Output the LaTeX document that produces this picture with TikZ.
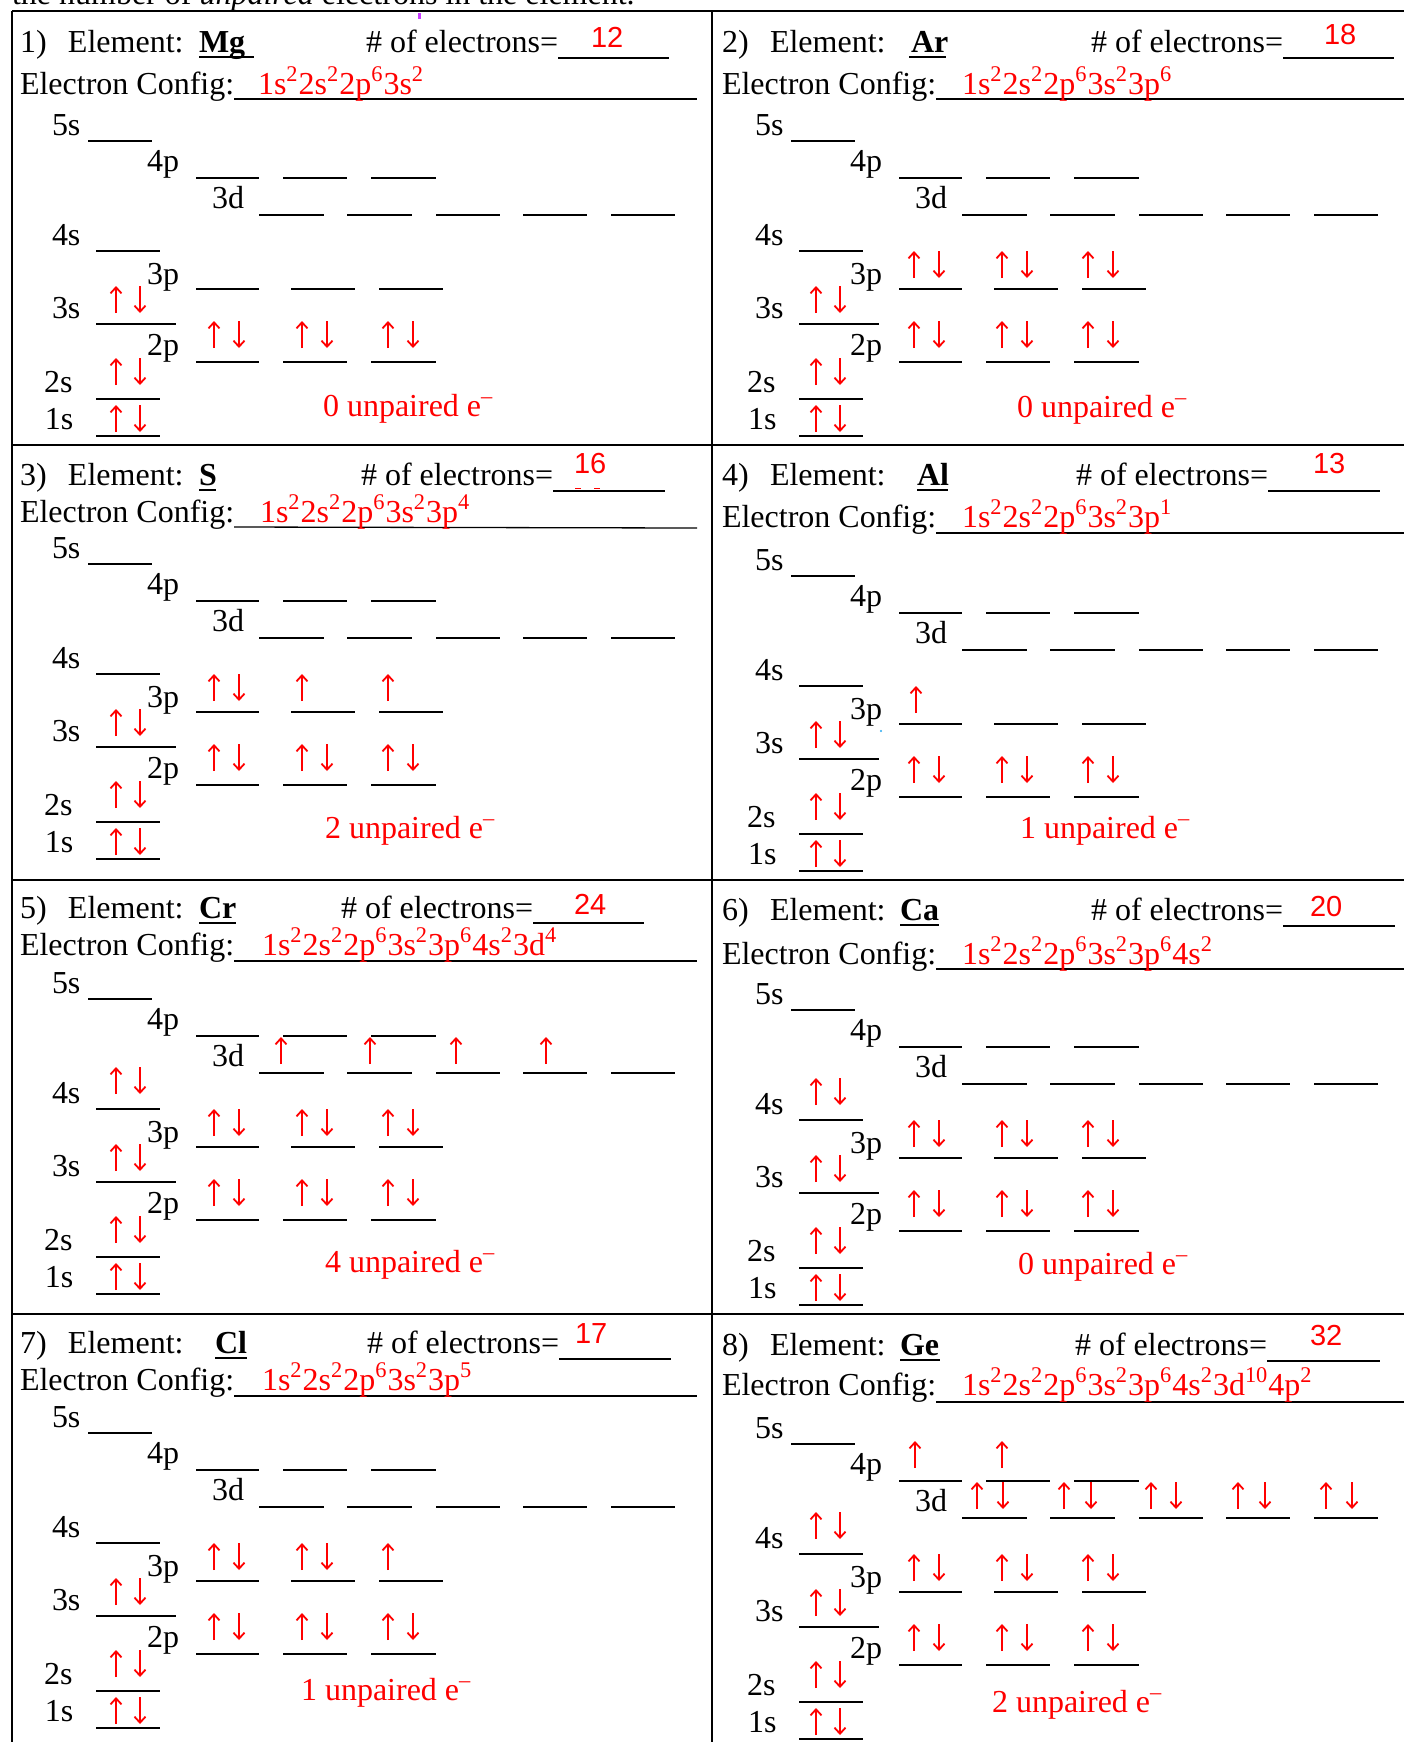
\documentclass[tikz,border=0pt]{standalone}
\usepackage{fontspec}
\setmainfont{Liberation Serif}
\newfontfamily\numfont{Liberation Sans}
\usetikzlibrary{arrows.meta}
\definecolor{ered}{RGB}{255,0,0}
\definecolor{mag}{RGB}{200,60,255}
\definecolor{dotblue}{RGB}{40,170,240}
\newcommand\su[1]{\textsuperscript{#1}}
\tikzset{
  txt/.style={anchor=base west, inner sep=0pt, outer sep=0pt, font=\fontsize{16}{19}\selectfont},
  rtxt/.style={txt, text=ered},
  cnt/.style={anchor=base west, inner sep=0pt, outer sep=0pt, text=ered, font=\numfont\fontsize{14.5}{17}\selectfont},
  sym/.style={txt, font=\fontsize{16}{19}\selectfont\bfseries},
  orb/.style={line width=0.65pt},
  symul/.style={line width=1pt},
  frame/.style={line width=1pt},
  eup/.style={draw=ered, line width=0.9pt, -{Straight Barb[length=3pt,width=5.5pt]}},
}
% orbital template: #1 prefix, #2 dx, #3 dy
\newcommand\orbitals[3]{%
\begin{scope}[shift={(#2,#3)}]
 \node[txt] (#1-5s) at (52,135) {5s};
 \draw[orb] (88,141) -- (152,141);
 \node[txt] (#1-4p) at (147,171) {4p};
 \foreach \a/\b in {196/259,283/347,371/436} \draw[orb] (\a,178) -- (\b,178);
 \node[txt] (#1-3d) at (212,208) {3d};
 \foreach \a/\b in {259/324,347/412,436/500,523/587,611/675} \draw[orb] (\a,215) -- (\b,215);
 \node[txt] (#1-4s) at (52,245) {4s};
 \draw[orb] (96,251) -- (160,251);
 \node[txt] (#1-3p) at (147,284) {3p};
 \foreach \a/\b in {196/259,291/355,379/443} \draw[orb] (\a,289) -- (\b,289);
 \node[txt] (#1-3s) at (52,318) {3s};
 \draw[orb] (96,324) -- (176,324);
 \node[txt] (#1-2p) at (147,355) {2p};
 \foreach \a/\b in {196/259,283/347,371/436} \draw[orb] (\a,362) -- (\b,362);
 \node[txt] (#1-2s) at (44,392) {2s};
 \draw[orb] (96,399) -- (160,399);
 \node[txt] (#1-1s) at (45,429) {1s};
 \draw[orb] (96,436) -- (160,436);
\end{scope}}
\newcommand\epair[3]{\draw[eup] (#1,#3) -- (#1,#3-27);\draw[eup] (#2,#3-27) -- (#2,#3);}
\newcommand\eone[2]{\draw[eup] (#1,#2) -- (#1,#2-27);}
\newcommand\ecore{\epair{116}{140}{432}\epair{116}{140}{385}\epair{116}{140}{313}%
 \epair{214}{239}{348}\epair{302}{327}{348}\epair{388}{413}{348}}
\newcommand\ethreep{\epair{214}{239}{278}\epair{302}{327}{278}\epair{388}{413}{278}}
\begin{document}
\begin{tikzpicture}[x=0.5pt,y=-0.5pt]
\useasboundingbox (0,0) rectangle (1404,1742);
\clip (0,0) rectangle (1404,1742);
\fill[white] (0,0) rectangle (1404,1742);
% cut-off heading
\node[txt] (top) at (12,4) {the number of \textit{unpaired} electrons in the element.};
% table frame
\draw[frame] (12,11) -- (1404,11);
\draw[frame] (12,445) -- (1404,445);
\draw[frame] (12,880) -- (1404,880);
\draw[frame] (12,1314) -- (1404,1314);
\draw[frame] (12,11) -- (12,1742);
\draw[frame] (712,11) -- (712,1742);
% ---------- cell 1 ----------
\node[txt] (n1) at (20,52) {1)};
\node[txt] (el1) at (68,52) {Element:};
\node[sym] (s1) at (199,52) {Mg};
\draw[symul] (199,57) -- (254,57);
\node[txt] (ne1) at (366,52) {\# of electrons=};
\draw[orb] (ne1.base east) ++(0,6) -- (669,58);
\node[cnt] (c1) at (591,47) {12};
\node[txt] (ec1) at (20,94) {Electron Config:};
\draw[orb] (ec1.base east) ++(0,5) -- (697,99);
\node[rtxt] (cf1) at (258,94) {1s\su{2}2s\su{2}2p\su{6}3s\su{2}};
\orbitals{o1}{0}{0}
\begin{scope}[shift={(0,0)}] \ecore \end{scope}
\node[rtxt] (u1) at (323,416) {0 unpaired e\su{--}};
\fill[mag] (418,13) rectangle (421,19);
% ---------- cell 2 ----------
\node[txt] (n2) at (722,52) {2)};
\node[txt] (el2) at (770,52) {Element:};
\node[sym] (s2) at (911,52) {Ar};
\draw[symul] (909,57) -- (946,57);
\node[txt] (ne2) at (1091,52) {\# of electrons=};
\draw[orb] (ne2.base east) ++(0,6) -- (1394,58);
\node[cnt] (c2) at (1324,44) {18};
\node[txt] (ec2) at (722,94) {Electron Config:};
\draw[orb] (ec2.base east) ++(0,5) -- (1404,99);
\node[rtxt] (cf2) at (962,94) {1s\su{2}2s\su{2}2p\su{6}3s\su{2}3p\su{6}};
\orbitals{o2}{703}{0}
\begin{scope}[shift={(700,0)}] \ecore\ethreep \end{scope}
\node[rtxt] (u2) at (1017,417) {0 unpaired e\su{--}};
% ---------- cell 3 ----------
\node[txt] (n3) at (20,485) {3)};
\node[txt] (el3) at (68,485) {Element:};
\node[sym] (s3) at (199,485) {S};
\draw[symul] (199,490) -- (216,490);
\node[txt] (ne3) at (361,485) {\# of electrons=};
\draw[orb] (ne3.base east) ++(0,6) -- (665,491);
\draw[ered, line width=0.8pt] (575,488.5) -- (581,488.5) (594,488.5) -- (600,488.5);
\node[cnt] (c3) at (574,473) {16};
\node[txt] (ec3) at (20,522) {Electron Config:};
\draw[orb] (ec3.base east) ++(0,5) -- (697,528);
\node[rtxt] (cf3) at (260,522) {1s\su{2}2s\su{2}2p\su{6}3s\su{2}3p\su{4}};
\orbitals{o3}{0}{423}
\begin{scope}[shift={(0,423)}] \ecore \epair{214}{239}{278}\eone{302}{278}\eone{388}{278} \end{scope}
\node[rtxt] (u3) at (325,838) {2 unpaired e\su{--}};
% ---------- cell 4 ----------
\node[txt] (n4) at (722,485) {4)};
\node[txt] (el4) at (770,485) {Element:};
\node[sym] (s4) at (917,485) {Al};
\draw[symul] (917,490) -- (948,490);
\node[txt] (ne4) at (1076,485) {\# of electrons=};
\draw[orb] (ne4.base east) ++(0,6) -- (1380,491);
\node[cnt] (c4) at (1313,473) {13};
\node[txt] (ec4) at (722,527) {Electron Config:};
\draw[orb] (ec4.base east) ++(0,6) -- (1404,533);
\node[rtxt] (cf4) at (962,527) {1s\su{2}2s\su{2}2p\su{6}3s\su{2}3p\su{1}};
\orbitals{o4}{703}{435}
\begin{scope}[shift={(700,435)}] \ecore \eone{216}{278} \end{scope}
\node[rtxt] (u4) at (1020,838) {1 unpaired e\su{--}};
\fill[dotblue] (881,731) circle (1.2);
% ---------- cell 5 ----------
\node[txt] (n5) at (20,918) {5)};
\node[txt] (el5) at (68,918) {Element:};
\node[sym] (s5) at (199,918) {Cr};
\draw[symul] (199,923) -- (236,923);
\node[txt] (ne5) at (341,918) {\# of electrons=};
\draw[orb] (ne5.base east) ++(0,5) -- (644,923);
\node[cnt] (c5) at (574,914) {24};
\node[txt] (ec5) at (20,955) {Electron Config:};
\draw[orb] (ec5.base east) ++(0,6) -- (697,961);
\node[rtxt] (cf5) at (262,955) {1s\su{2}2s\su{2}2p\su{6}3s\su{2}3p\su{6}4s\su{2}3d\su{4}};
\orbitals{o5}{0}{858}
\begin{scope}[shift={(0,858)}] \ecore\ethreep\epair{116}{140}{236}
 \eone{281}{206}\eone{370}{206}\eone{456}{206}\eone{546}{206} \end{scope}
\node[rtxt] (u5) at (325,1272) {4 unpaired e\su{--}};
% ---------- cell 6 ----------
\node[txt] (n6) at (722,920) {6)};
\node[txt] (el6) at (770,920) {Element:};
\node[sym] (s6) at (900,920) {Ca};
\draw[symul] (900,925) -- (939,925);
\node[txt] (ne6) at (1091,920) {\# of electrons=};
\draw[orb] (ne6.base east) ++(0,6) -- (1395,926);
\node[cnt] (c6) at (1310,916) {20};
\node[txt] (ec6) at (722,964) {Electron Config:};
\draw[orb] (ec6.base east) ++(0,5) -- (1404,969);
\node[rtxt] (cf6) at (962,964) {1s\su{2}2s\su{2}2p\su{6}3s\su{2}3p\su{6}4s\su{2}};
\orbitals{o6}{703}{869}
\begin{scope}[shift={(700,869)}] \ecore\ethreep\epair{116}{140}{236} \end{scope}
\node[rtxt] (u6) at (1018,1274) {0 unpaired e\su{--}};
% ---------- cell 7 ----------
\node[txt] (n7) at (20,1353) {7)};
\node[txt] (el7) at (68,1353) {Element:};
\node[sym] (s7) at (215,1353) {Cl};
\draw[symul] (215,1358) -- (247,1358);
\node[txt] (ne7) at (367,1353) {\# of electrons=};
\draw[orb] (ne7.base east) ++(0,6) -- (671,1359);
\node[cnt] (c7) at (575,1343) {17};
\node[txt] (ec7) at (20,1390) {Electron Config:};
\draw[orb] (ec7.base east) ++(0,6) -- (697,1396);
\node[rtxt] (cf7) at (262,1390) {1s\su{2}2s\su{2}2p\su{6}3s\su{2}3p\su{5}};
\orbitals{o7}{0}{1292}
\begin{scope}[shift={(0,1292)}] \ecore \epair{214}{239}{278}\epair{302}{327}{278}\eone{388}{278} \end{scope}
\node[rtxt] (u7) at (301,1700) {1 unpaired e\su{--}};
% ---------- cell 8 ----------
\node[txt] (n8) at (722,1355) {8)};
\node[txt] (el8) at (770,1355) {Element:};
\node[sym] (s8) at (900,1355) {Ge};
\draw[symul] (900,1360) -- (940,1360);
\node[txt] (ne8) at (1075,1355) {\# of electrons=};
\draw[orb] (ne8.base east) ++(0,6) -- (1380,1361);
\node[cnt] (c8) at (1310,1345) {32};
\node[txt] (ec8) at (722,1395) {Electron Config:};
\draw[orb] (ec8.base east) ++(0,7) -- (1404,1402);
\node[rtxt] (cf8) at (962,1395) {1s\su{2}2s\su{2}2p\su{6}3s\su{2}3p\su{6}4s\su{2}3d\su{10}4p\su{2}};
\orbitals{o8}{703}{1303}
\begin{scope}[shift={(700,1303)}] \ecore\ethreep\epair{116}{140}{236}
 \epair{277}{303}{206}\epair{364}{391}{206}\epair{451}{476}{206}\epair{538}{565}{206}\epair{626}{652}{206}
 \eone{215}{165}\eone{302}{165} \end{scope}
\node[rtxt] (u8) at (992,1712) {2 unpaired e\su{--}};
\end{tikzpicture}
\end{document}
